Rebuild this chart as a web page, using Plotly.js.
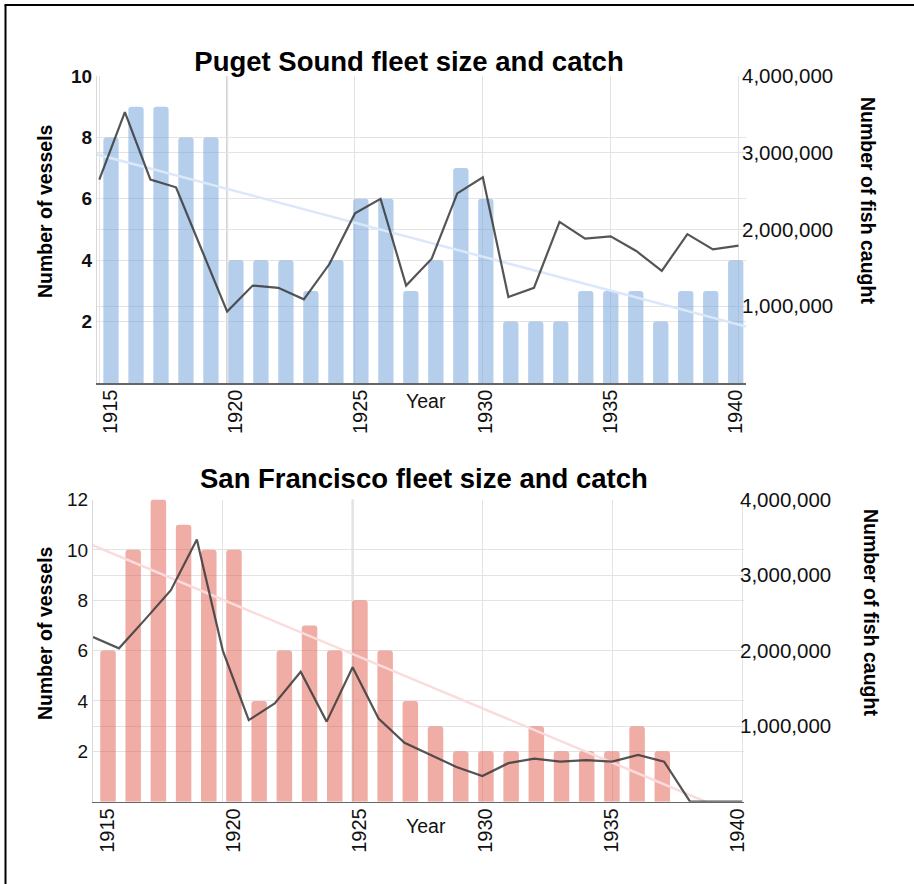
<!DOCTYPE html>
<html>
<head>
<meta charset="utf-8">
<script src="https://cdn.plot.ly/plotly-3.0.1.min.js"></script>
<style>
  html, body { margin: 0; padding: 0; background: #fff; }
  #chart { width: 914px; height: 884px; }
</style>
</head>
<body>
<div id="chart"></div>
<script>
// ---------- DATA ----------
const years = [1915,1916,1917,1918,1919,1920,1921,1922,1923,1924,1925,1926,1927,1928,1929,1930,1931,1932,1933,1934,1935,1936,1937,1938,1939,1940];

const pugetVessels = [8,9,9,8,8,4,4,4,3,4,6,6,3,4,7,6,2,2,2,3,3,3,2,3,3,4];
const pugetCatch = [2650000,3530000,2650000,2550000,1740000,930000,1270000,1240000,1090000,1550000,2210000,2400000,1270000,1620000,2470000,2680000,1120000,1240000,2100000,1880000,1910000,1720000,1460000,1940000,1740000,1790000];
const pugetTrendYears = [1914.9, 1940.3];
const pugetTrendVessels = [7.45, 1.84];

const sfVessels = [6,10,12,11,10,10,4,6,7,6,8,6,4,3,2,2,2,3,2,2,2,3,2,0,0,0];
const sfCatch = [2180000,2030000,2410000,2800000,3470000,2000000,1080000,1300000,1720000,1060000,1780000,1100000,780000,620000,460000,340000,510000,570000,530000,550000,530000,620000,530000,0,0,0];
const sfTrendYears = [1914.95, 1938.6];
const sfTrendVessels = [10.2, 0];

const xTickYears = [1915,1920,1925,1930,1935,1940];
const xTickText = ["1915","1920","1925","1930","1935","1940"];
const pugetLeftTicks = [2,4,6,8,10];
const sfLeftTicks = [2,4,6,8,10,12];
const rightTicks = [1000000,2000000,3000000,4000000];
const rightTickText = ["1,000,000","2,000,000","3,000,000","4,000,000"];

// ---------- LAYOUT HELPERS ----------
const W = 914, H = 884;
const px = v => v / W;
const py = v => 1 - v / H;
const FONT = "Liberation Sans, Arial, Helvetica, sans-serif";
const GRID = "#e3e3e3";

const traces = [
  { type: "bar", x: years, y: pugetVessels, xaxis: "x", yaxis: "y", width: 0.612,
    marker: { color: "rgba(120,165,220,0.55)", cornerradius: 3 }, hoverinfo: "skip" },
  { type: "scatter", mode: "lines", x: pugetTrendYears, y: pugetTrendVessels, xaxis: "x3", yaxis: "y",
    line: { color: "rgb(218,232,249)", width: 2.5 }, hoverinfo: "skip" },
  { type: "scatter", mode: "lines", x: years, y: pugetCatch, xaxis: "x3", yaxis: "y2",
    line: { color: "rgba(55,55,55,0.85)", width: 2.2 }, hoverinfo: "skip" },

  { type: "bar", x: years, y: sfVessels, xaxis: "x2", yaxis: "y3", width: 0.615,
    marker: { color: "rgba(225,92,78,0.5)", cornerradius: 3 }, hoverinfo: "skip" },
  { type: "scatter", mode: "lines", x: sfTrendYears, y: sfTrendVessels, xaxis: "x4", yaxis: "y3",
    line: { color: "rgb(251,220,220)", width: 2.5 }, hoverinfo: "skip" },
  { type: "scatter", mode: "lines", x: years, y: sfCatch, xaxis: "x4", yaxis: "y4",
    line: { color: "rgba(55,55,55,0.85)", width: 2.2 }, hoverinfo: "skip" }
];

const topDomX = [px(97), px(746)];
const topDomY = [py(383), py(76)];
const botDomX = [px(93), px(744)];
const botDomY = [py(801.7), py(499.5)];

const xTickFont = { family: FONT, size: 20, color: "#111" };
const rTickFont = { family: FONT, size: 20.5, color: "#111" };

const layout = {
  width: W, height: H,
  margin: { l: 0, r: 0, t: 0, b: 0 },
  paper_bgcolor: "#fff", plot_bgcolor: "rgba(0,0,0,0)",
  showlegend: false,
  font: { family: FONT, color: "#111" },
  title: {
    text: "Puget Sound fleet size and catch",
    font: { family: FONT, size: 27.5, color: "#000", weight: "bold" },
    x: px(409), xanchor: "center", xref: "paper",
    y: py(61), yanchor: "middle", yref: "container"
  },
  // top chart: bar axis (labels)
  xaxis: {
    domain: topDomX, anchor: "y", range: [1914.44, 1940.412],
    tickmode: "array", tickvals: xTickYears, ticktext: xTickText, tickangle: -90,
    tickfont: xTickFont, showgrid: false, zeroline: false, ticklabelstandoff: -3,
    showline: true, linecolor: "#666", linewidth: 1.6, ticks: "", fixedrange: true
  },
  // top chart: line axis (gridlines)
  xaxis3: {
    overlaying: "x", anchor: "y", range: [1914.91, 1940.293],
    tickmode: "array", tickvals: xTickYears, showticklabels: false,
    showgrid: true, gridcolor: GRID, gridwidth: 1, zeroline: false, showline: false, ticks: ""
  },
  yaxis: {
    domain: topDomY, anchor: "x", range: [0, 10],
    tickmode: "array", tickvals: pugetLeftTicks,
    tickfont: { family: FONT, size: 19, color: "#111", weight: "bold" },
    showgrid: true, gridcolor: GRID, zeroline: false,
    showline: true, linecolor: "#d8d8d8", linewidth: 1, ticks: ""
  },
  yaxis2: {
    overlaying: "y", anchor: "x", side: "right", range: [0, 4000000],
    tickmode: "array", tickvals: rightTicks, ticktext: rightTickText,
    tickfont: rTickFont, showgrid: true, gridcolor: GRID, zeroline: false,
    showline: false, ticks: "", ticklabelstandoff: -5
  },
  // bottom chart
  xaxis2: {
    domain: botDomX, anchor: "y3", range: [1914.405, 1940.243],
    tickmode: "array", tickvals: xTickYears, ticktext: xTickText, tickangle: -90,
    tickfont: xTickFont, showgrid: false, zeroline: false, ticklabelstandoff: -3,
    showline: true, linecolor: "#666", linewidth: 1.6, ticks: ""
  },
  xaxis4: {
    overlaying: "x2", anchor: "y3", range: [1915, 1940.077],
    tickmode: "array", tickvals: xTickYears, showticklabels: false,
    showgrid: true, gridcolor: GRID, gridwidth: 1, zeroline: false, showline: false, ticks: ""
  },
  yaxis3: {
    domain: botDomY, anchor: "x2", range: [0, 12],
    tickmode: "array", tickvals: sfLeftTicks,
    tickfont: { family: FONT, size: 19, color: "#111" },
    showgrid: true, gridcolor: GRID, zeroline: false,
    showline: true, linecolor: "#d8d8d8", linewidth: 1, ticks: ""
  },
  yaxis4: {
    overlaying: "y3", anchor: "x2", side: "right", range: [0, 4000000],
    tickmode: "array", tickvals: rightTicks, ticktext: rightTickText,
    tickfont: rTickFont, showgrid: true, gridcolor: GRID, zeroline: false,
    showline: false, ticks: "", ticklabelstandoff: -5
  },
  annotations: [
    { text: "San Francisco fleet size and catch", xref: "paper", yref: "paper",
      x: px(423.5), y: py(479), xanchor: "center", yanchor: "middle", showarrow: false,
      font: { family: FONT, size: 27.5, color: "#000", weight: "bold" } },
    { text: "Number of vessels", xref: "paper", yref: "paper", x: px(45), y: py(211),
      xanchor: "center", yanchor: "middle", textangle: -90, showarrow: false,
      font: { family: FONT, size: 19.5, color: "#000", weight: "bold" } },
    { text: "Number of fish caught", xref: "paper", yref: "paper", x: px(868), y: py(200),
      xanchor: "center", yanchor: "middle", textangle: 90, showarrow: false,
      font: { family: FONT, size: 19.5, color: "#000", weight: "bold" } },
    { text: "Year", xref: "paper", yref: "paper", x: px(426), y: py(401),
      xanchor: "center", yanchor: "middle", showarrow: false,
      font: { family: FONT, size: 19.5, color: "#111" } },
    { text: "Number of vessels", xref: "paper", yref: "paper", x: px(45), y: py(633),
      xanchor: "center", yanchor: "middle", textangle: -90, showarrow: false,
      font: { family: FONT, size: 19.5, color: "#000", weight: "bold" } },
    { text: "Number of fish caught", xref: "paper", yref: "paper", x: px(871), y: py(612),
      xanchor: "center", yanchor: "middle", textangle: 90, showarrow: false,
      font: { family: FONT, size: 19.5, color: "#000", weight: "bold" } },
    { text: "Year", xref: "paper", yref: "paper", x: px(426), y: py(826),
      xanchor: "center", yanchor: "middle", showarrow: false,
      font: { family: FONT, size: 19.5, color: "#111" } }
  ],
  shapes: [
    // highlighted vertical year lines
    { type: "line", xref: "x3", yref: "y domain", x0: 1920, x1: 1920, y0: 0, y1: 1,
      line: { color: "#cfcfcf", width: 2 }, layer: "below" },
    { type: "line", xref: "x4", yref: "y3 domain", x0: 1925, x1: 1925, y0: 0, y1: 1,
      line: { color: "#d6d6d6", width: 2 }, layer: "below" },
    // frame (left and top edges)
    { type: "line", xref: "paper", yref: "paper", x0: px(5.5), x1: px(5.5), y0: 0, y1: py(5),
      line: { color: "#000", width: 2 } },
    { type: "line", xref: "paper", yref: "paper", x0: px(4.5), x1: 1, y0: py(5), y1: py(5),
      line: { color: "#000", width: 2 } }
  ]
};

Plotly.newPlot("chart", traces, layout, { staticPlot: true, displayModeBar: false });
</script>
</body>
</html>
